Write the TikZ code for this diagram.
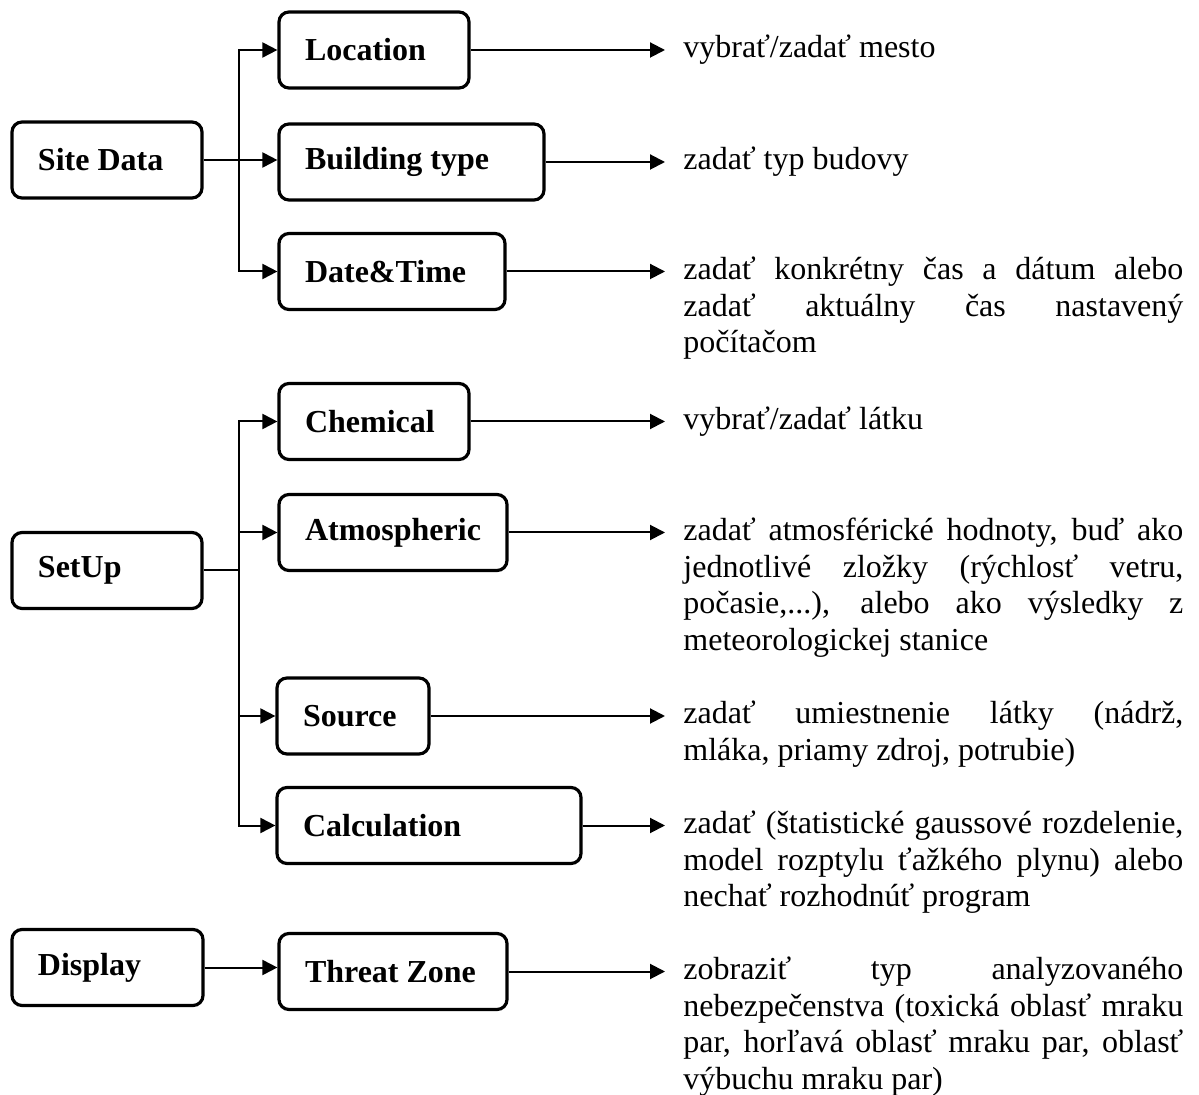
\documentclass[tikz,border=0pt]{standalone}
\usepackage{fontspec}
\setmainfont{Liberation Serif}
\usetikzlibrary{arrows.meta}
\newcommand\descfont{\fontsize{16}{18.3}\selectfont\hyphenpenalty=10000 \exhyphenpenalty=10000 \tolerance=10000\relax}

\begin{document}
\begin{tikzpicture}[x=0.5pt, y=-0.5pt,
  box/.style={rectangle, draw, line width=1.6pt, rounded corners=5pt, minimum height=38pt, inner xsep=13pt, align=flush left, font=\fontsize{16}{18.3}\selectfont\bfseries},
  desc/.style={anchor=base west, inner sep=0pt, text width=250pt, align=justify, font=\descfont},
  conn/.style={line width=1pt, -{Triangle[length=7.5pt, width=7.5pt]}},
  link/.style={line width=1pt}]
\useasboundingbox (0, 0) rectangle (1199, 1095);

\node at (107, 160) [box, text width=69pt] (sitedata) {Site Data};
\node at (374, 50) [box, text width=69pt] (location) {Location};
\node at (411.5, 162) [box, text width=106.5pt] (building) {Building type};
\node at (392, 271.5) [box, text width=87pt] (datetime) {Date\&Time};

\node at (107, 570.5) [box, text width=69pt] (setup) {SetUp};
\node at (374, 421.5) [box, text width=69pt] (chemical) {Chemical};
\node at (393, 532.5) [box, text width=88pt] (atmospheric) {Atmospheric};
\node at (353, 716) [box, text width=50pt] (source) {Source};
\node at (429, 825.5) [box, text width=126pt] (calculation) {Calculation};

\node at (107.5, 967.5) [box, text width=69.5pt] (display) {Display};
\node at (393, 971.5) [box, text width=88pt] (threatzone) {Threat Zone};

\coordinate (bus) at (239, 0);
\coordinate (tip) at (665, 0);

\draw[conn] (sitedata.east) -- (sitedata.east -| building.west);
\draw[conn] (bus |- sitedata.east) |- (location.west);
\draw[conn] (bus |- sitedata.east) |- (datetime.west);

\draw[link] (setup.east) -- (bus |- setup.east);
\draw[conn] (bus |- setup.east) |- (chemical.west);
\draw[conn] (bus |- setup.east) |- (atmospheric.west);
\draw[conn] (bus |- setup.east) |- (source.west);
\draw[conn] (bus |- setup.east) |- (calculation.west);

\draw[conn] (display.east) -- (display.east -| threatzone.west);

\draw[conn] (location.east) -- (location.east -| tip);
\draw[conn] (building.east) -- (building.east -| tip);
\draw[conn] (datetime.east) -- (datetime.east -| tip);
\draw[conn] (chemical.east) -- (chemical.east -| tip);
\draw[conn] (atmospheric.east) -- (atmospheric.east -| tip);
\draw[conn] (source.east) -- (source.east -| tip);
\draw[conn] (calculation.east) -- (calculation.east -| tip);
\draw[conn] (threatzone.east) -- (threatzone.east -| tip);

\node at (683, 58) [desc] (locationtext) {vybrať/zadať mesto};
\node at (683, 170) [desc] (buildingtext) {zadať typ budovy};
\node at (683, 279.5) [desc] (datetimetext) {zadať konkrétny čas a dátum alebo\linebreak zadať aktuálny čas nastavený\linebreak počítačom};
\node at (683, 429.5) [desc] (chemicaltext) {vybrať/zadať látku};
\node at (683, 540.5) [desc] (atmospherictext) {zadať atmosférické hodnoty, buď ako\linebreak jednotlivé zložky (rýchlosť vetru,\linebreak počasie,...), alebo ako výsledky z\linebreak meteorologickej stanice};
\node at (683, 724) [desc] (sourcetext) {zadať umiestnenie látky (nádrž,\linebreak mláka, priamy zdroj, potrubie)};
\node at (683, 833.5) [desc] (calculationtext) {zadať (štatistické gaussové rozdelenie,\linebreak model rozptylu ťažkého plynu) alebo\linebreak nechať rozhodnúť program};
\node at (683, 979.5) [desc] (threatzonetext) {zobraziť typ analyzovaného\linebreak nebezpečenstva (toxická oblasť mraku\linebreak par, horľavá oblasť mraku par, oblasť\linebreak výbuchu mraku par)};
\end{tikzpicture}
\end{document}
